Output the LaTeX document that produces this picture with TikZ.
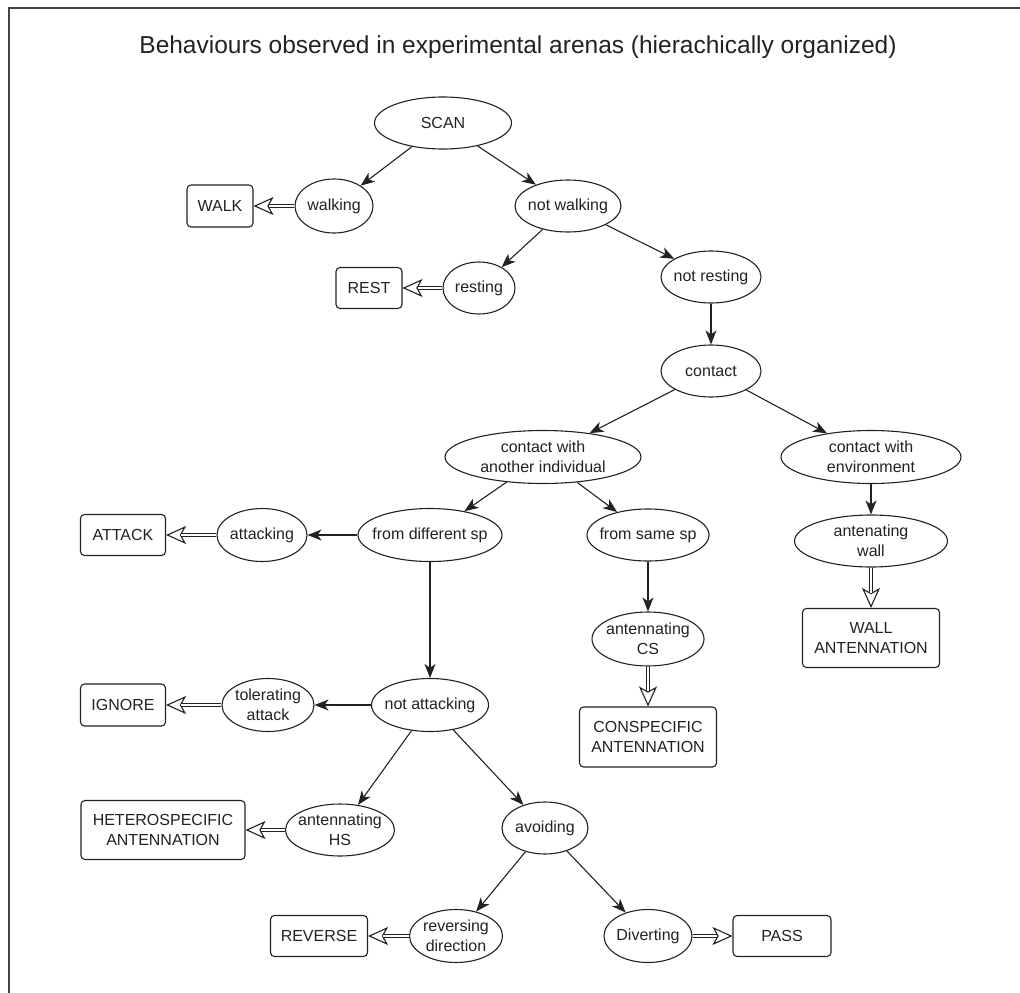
\documentclass[tikz,border=0pt]{standalone}
\usepackage{fontspec}
\setmainfont{Liberation Sans}
\usetikzlibrary{arrows.meta,shapes.geometric}
\definecolor{ink}{HTML}{222222}
\newcommand\dblarr[2]{%
  \draw[hollowtip] (#1) -- (#2);
  \draw[dblshaft] (#1) -- (#2);}
\begin{document}
\begin{tikzpicture}[x=1pt,y=-1pt,
  every node/.style={font=\fontsize{16}{20.5}\selectfont, text=ink, align=center},
  ell/.style={draw=ink, line width=1.1pt, ellipse, inner xsep=-9pt, inner ysep=-4pt, fill=white},
  box/.style={draw=ink, line width=1.1pt, rectangle, rounded corners=4pt, inner sep=0pt, fill=white},
  arr/.style={draw=ink, line width=1.1pt, -{Stealth[length=14pt,width=11pt,inset=4pt]}},
  hollowtip/.style={draw=ink, line width=1.1pt, -{Stealth[length=20pt,width=18pt,inset=5pt,fill=white]}},
  dblshaft/.style={draw=ink, line width=1.1pt, double=white, double distance=2.6pt, shorten >=15pt},
  sz/.style 2 args={minimum width=#1pt, minimum height=#2pt},
]
\useasboundingbox (0,0) rectangle (1020,993);
\draw[line width=1.5pt, draw=ink!85] (9,993) -- (9,8) -- (1020,8);

\node[font=\fontsize{24.5}{28}\selectfont] (title) at (518,47) {Behaviours observed in experimental arenas (hierachically organized)};

\node[ell, sz={137}{52}] (scan) at (443,123) {SCAN};
\node[ell, sz={78}{54}] (walking) at (334,206) {walking};
\node[box, sz={66}{42}] (WALK) at (220,206) {WALK};
\node[ell, sz={106}{52}] (notwalking) at (568,206) {not walking};
\node[ell, sz={72}{52}] (resting) at (479,288) {resting};
\node[box, sz={66}{41}] (REST) at (369,288) {REST};
\node[ell, sz={100}{52}] (notresting) at (711,277) {not resting};
\node[ell, sz={100}{52}] (contact) at (711,371) {contact};
\node[ell, sz={196}{53}] (cai) at (543,457) {contact with\\another individual};
\node[ell, sz={180}{53}] (cenv) at (871,457) {contact with\\environment};
\node[ell, sz={153}{52}] (awall) at (871,541) {antenating\\wall};
\node[box, sz={137}{59}] (WALLA) at (871,638) {WALL\\ANTENNATION};
\node[ell, sz={144}{53}] (fds) at (430,535) {from different sp};
\node[ell, sz={90}{53}] (attacking) at (262,535) {attacking};
\node[box, sz={85}{41}] (ATTACK) at (123,535) {ATTACK};
\node[ell, sz={122}{52}] (fss) at (648,535) {from same sp};
\node[ell, sz={112}{54}] (acs) at (648,639) {antennating\\CS};
\node[box, sz={137}{60}] (CONSA) at (648,737) {CONSPECIFIC\\ANTENNATION};
\node[ell, sz={117}{53}] (notatt) at (430,705) {not attacking};
\node[ell, sz={92}{53}] (tol) at (268,705) {tolerating\\attack};
\node[box, sz={85}{42}] (IGNORE) at (123,705) {IGNORE};
\node[ell, sz={109}{52}] (ahs) at (340,830) {antennating\\HS};
\node[box, sz={164}{59}] (HETA) at (163,830) {HETEROSPECIFIC\\ANTENNATION};
\node[ell, sz={86}{52}] (avoiding) at (545,828) {avoiding};
\node[ell, sz={93}{53}] (rev) at (456,936) {reversing\\direction};
\node[box, sz={97}{41}] (REVERSE) at (319,936) {REVERSE};
\node[ell, sz={88}{53}] (div) at (648,936) {Diverting};
\node[box, sz={98}{41}] (PASS) at (782,936) {PASS};

\draw[arr] (scan) -- (walking);
\draw[arr] (scan) -- (notwalking);
\draw[arr] (notwalking) -- (resting);
\draw[arr] (notwalking) -- (notresting);
\draw[arr] (notresting) -- (contact);
\draw[arr] (contact) -- (cai);
\draw[arr] (contact) -- (cenv);
\draw[arr] (cenv) -- (awall);
\draw[arr] (cai) -- (fds);
\draw[arr] (cai) -- (fss);
\draw[arr] (fds) -- (attacking);
\draw[arr] (fds) -- (notatt);
\draw[arr] (fss) -- (acs);
\draw[arr] (notatt) -- (tol);
\draw[arr] (notatt) -- (ahs);
\draw[arr] (notatt) -- (avoiding);
\draw[arr] (avoiding) -- (rev);
\draw[arr] (avoiding) -- (div);

\dblarr{walking}{WALK}
\dblarr{resting}{REST}
\dblarr{attacking}{ATTACK}
\dblarr{tol}{IGNORE}
\dblarr{ahs}{HETA}
\dblarr{rev}{REVERSE}
\dblarr{div}{PASS}
\dblarr{acs}{CONSA}
\dblarr{awall}{WALLA}
\end{tikzpicture}
\end{document}
